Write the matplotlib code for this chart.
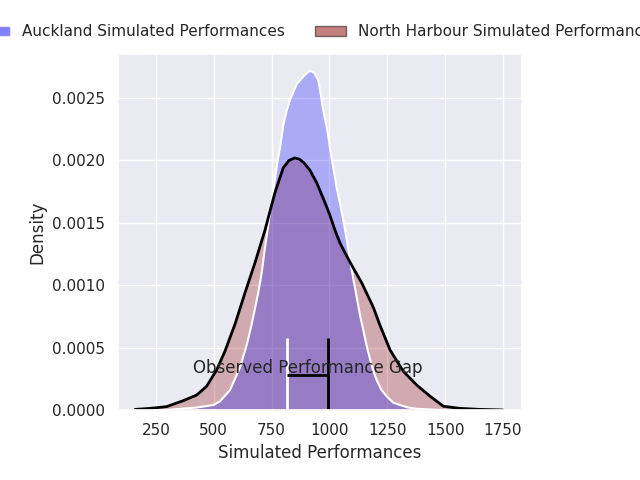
import matplotlib
matplotlib.use("Agg")
import matplotlib.pyplot as plt
from matplotlib.patches import Patch
import numpy as np
import seaborn as sns

# density curves (density in units of 1e-4)
auck_x = [170, 300, 426, 498, 527, 570, 613, 642, 664, 692, 707, 721, 736, 750,
          764, 775, 786, 800, 815, 830, 858, 890, 916, 935, 952, 965, 973, 990, 1002,
          1031, 1045, 1060, 1074, 1089, 1104, 1118, 1132, 1146, 1160, 1175, 1190,
          1204, 1225, 1247, 1275, 1305, 1340, 1377, 1450, 1500]
auck_d = [0.0, 0.01, 0.2, 0.4, 0.7, 1.6, 3.4, 5.2, 6.9, 9.4, 11.0, 13.0, 14.9, 16.7,
          18.5, 19.9, 21.0, 22.8, 24.0, 24.9, 26.1, 26.8, 27.2, 27.0, 26.4, 25.0, 24.0, 22.5, 21.0,
          17.8, 16.6, 15.2, 13.7, 12.0, 10.4, 9.0, 7.6, 6.4, 5.2, 4.1, 3.1,
          2.4, 1.6, 1.1, 0.6, 0.4, 0.2, 0.1, 0.03, 0.0]

nh_x = [160, 224, 296, 368, 426, 469, 512, 548, 592, 635, 678, 721, 764, 800,
        825, 850, 870, 890, 916, 945, 981, 1002, 1024, 1045, 1067, 1096, 1139,
        1175, 1190, 1218, 1262, 1319, 1377, 1435, 1492, 1564, 1650, 1750]
nh_d = [0.05, 0.13, 0.27, 0.75, 1.2, 1.9, 3.2, 4.7, 6.9, 9.4, 11.8, 14.4, 17.4, 19.4,
        20.0, 20.2, 20.1, 19.8, 19.2, 18.2, 16.6, 15.6, 14.4, 13.4, 12.6, 11.6, 10.2,
        8.8, 8.2, 6.8, 4.8, 3.1, 2.0, 1.1, 0.3, 0.13, 0.05, 0.0]

gap_low = 818
gap_high = 993
gap_y = 0.00028
marker_top = 0.00058

labels = ["Auckland Simulated Performances", "North Harbour Simulated Performances"]

sns.set_theme()

auck_y = np.array(auck_d) * 1e-4
nh_y = np.array(nh_d) * 1e-4

fig = plt.figure(figsize=(6.4, 4.8), dpi=100)
ax = fig.add_axes([0.1844, 0.1458, 0.6312, 0.7417])

ax.fill_between(nh_x, nh_y, color="darkred", alpha=0.27, linewidth=0)
ax.fill_between(auck_x, auck_y, color="blue", alpha=0.27, linewidth=0)
ax.plot(auck_x, auck_y, color="white", linewidth=1.5)
ax.plot(nh_x, nh_y, color="black", linewidth=2)

ax.vlines(gap_low, 0, marker_top, color="white", linewidth=2)
ax.vlines(gap_high, 0, marker_top, color="black", linewidth=2)
ax.hlines(gap_y, gap_low, gap_high, color="black", linewidth=2)
ax.text((gap_low + gap_high) / 2, 0.0003, "Observed Performance Gap",
        ha="center", va="baseline", fontsize=12, color="#262626")

ax.set_xlim(86, 1832)
ax.set_ylim(0, 0.002853)
ax.set_xticks([250, 500, 750, 1000, 1250, 1500, 1750])
ax.set_xlabel("Simulated Performances")
ax.set_ylabel("Density")

handles = [Patch(facecolor=(0, 0, 1, 0.5), edgecolor=(1, 1, 1, 0.5)),
           Patch(facecolor=(0.545, 0, 0, 0.5), edgecolor=(0, 0, 0, 0.5))]
ax.legend(handles, labels, loc="center", bbox_to_anchor=(0.5, 1.062),
          ncol=2, frameon=False)

fig.savefig("out.png", dpi=100)
